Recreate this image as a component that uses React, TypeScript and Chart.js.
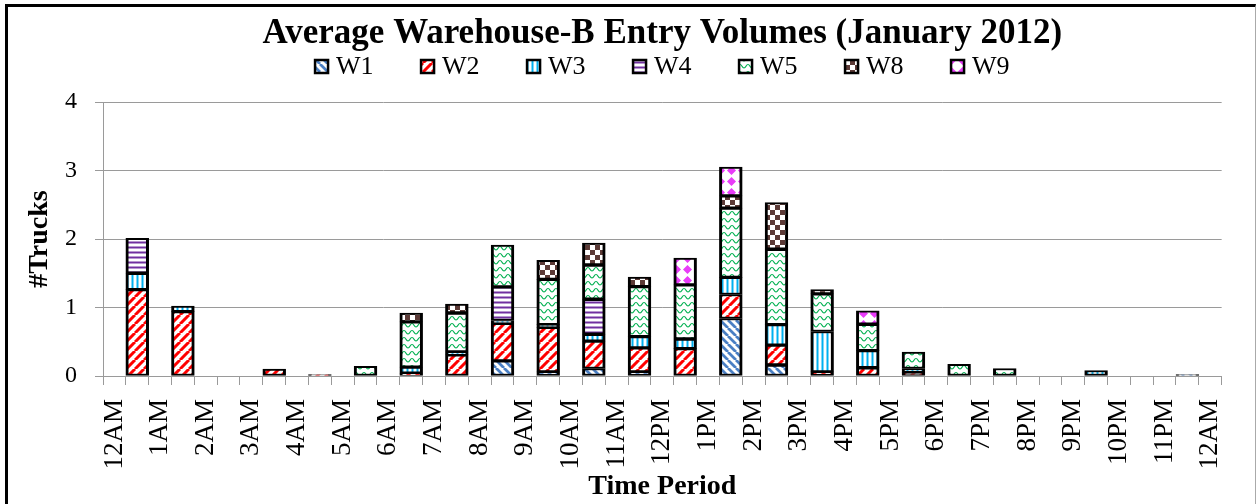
import React, { useEffect, useRef } from 'react';
import { Chart, registerables } from 'chart.js';

Chart.register(...registerables);

const hourLabels = ['12AM','1AM','2AM','3AM','4AM','5AM','6AM','7AM','8AM','9AM','10AM','11AM','12PM','1PM','2PM','3PM','4PM','5PM','6PM','7PM','8PM','9PM','10PM','11PM','12AM'];
const seriesNames = ['W1','W2','W3','W4','W5','W8','W9'];
const w1 = [0,0,0,0,0,0,0,0,0.22,0.06,0.11,0.06,0,0.84,0.16,0,0,0,0,0,0,0,0,0.02];
const w2 = [1.26,0.94,0,0.1,0.02,0,0.04,0.31,0.55,0.65,0.40,0.35,0.40,0.35,0.29,0.06,0.12,0.05,0,0,0,0,0,0];
const w3 = [0.24,0.08,0,0,0,0,0.09,0.04,0.04,0.04,0.10,0.165,0.14,0.25,0.30,0.59,0.25,0.06,0,0,0,0.08,0,0];
const w4 = [0.51,0,0,0,0,0,0,0,0.49,0,0.51,0,0,0,0,0,0,0,0,0,0,0,0,0];
const w5 = [0,0,0,0,0,0.14,0.66,0.57,0.61,0.66,0.50,0.73,0.79,1.01,1.10,0.55,0.385,0.24,0.17,0.11,0,0,0,0];
const w8 = [0,0,0,0,0,0,0.13,0.13,0,0.28,0.32,0.14,0,0.18,0.68,0.06,0,0,0,0,0,0,0,0];
const w9 = [0,0,0,0,0,0,0,0,0,0,0,0,0.39,0.42,0,0,0.195,0,0,0,0,0,0,0];
const seriesValues = [w1, w2, w3, w4, w5, w8, w9];
const seriesPatterns = ['bdiag','fdiag','vert','horiz','wave','check','diamond'];
const seriesColors = ['#4a7fc4','#ff0000','#00b0f0','#7030a0','#00b050','#5c3a36','#e83cf8'];

const FONT = '"Liberation Serif", "Times New Roman", serif';

function makePattern(kind: string, color: string): CanvasPattern {
  const c = document.createElement('canvas');
  let w = 8, h = 8;
  if (kind === 'fdiag') { w = 9; h = 9; }
  if (kind === 'vert' || kind === 'horiz') { w = 5; h = 5; }
  if (kind === 'wave') { w = 8; h = 7; }
  if (kind === 'check') { w = 10; h = 10; }
  if (kind === 'diamond') { w = 11; h = 11; }
  c.width = w; c.height = h;
  const g = c.getContext('2d')!;
  g.fillStyle = '#ffffff';
  g.fillRect(0, 0, w, h);
  g.fillStyle = color;
  g.strokeStyle = color;
  if (kind === 'bdiag') {
    g.lineWidth = 2.8;
    g.beginPath();
    for (const k of [-w, 0, w]) { g.moveTo(k, 0); g.lineTo(k + w, h); }
    g.stroke();
  } else if (kind === 'fdiag') {
    g.lineWidth = 3;
    g.beginPath();
    for (const k of [-w, 0, w]) { g.moveTo(k, h); g.lineTo(k + w, 0); }
    g.stroke();
  } else if (kind === 'vert') {
    g.fillRect(1.5, 0, 2, h);
  } else if (kind === 'horiz') {
    g.fillRect(0, 1.5, w, 2);
  } else if (kind === 'wave') {
    g.lineWidth = 1.2;
    g.beginPath();
    g.moveTo(0, 5);
    g.bezierCurveTo(2, 5, 2, 1.5, 4, 1.5);
    g.bezierCurveTo(6, 1.5, 6, 5, 8, 5);
    g.stroke();
  } else if (kind === 'check') {
    g.fillRect(0, 0, 5, 5);
    g.fillRect(5, 5, 5, 5);
  } else if (kind === 'diamond') {
    g.beginPath();
    g.moveTo(5.5, 1); g.lineTo(10, 5.5); g.lineTo(5.5, 10); g.lineTo(1, 5.5);
    g.closePath();
    g.fill();
  }
  return g.createPattern(c, 'repeat')!;
}

const legendPlugin = {
  id: 'customLegend',
  afterDraw(chart: any) {
    const ctx = chart.ctx as CanvasRenderingContext2D;
    const ds = chart.data.datasets;
    const ca = chart.chartArea;
    const center = (ca.left + ca.right) / 2;
    const spacing = 106;
    const box = 13;
    const gap = 8;
    ctx.save();
    ctx.font = `26px ${FONT}`;
    const lastW = ctx.measureText(ds[ds.length - 1].label).width;
    const total = spacing * (ds.length - 1) + box + gap + lastW;
    let x = center - total / 2;
    const cy = 66.5;
    ds.forEach((d: any) => {
      ctx.fillStyle = d.backgroundColor;
      ctx.fillRect(x, cy - box / 2, box, box);
      ctx.lineWidth = 2.5;
      ctx.strokeStyle = '#000';
      ctx.strokeRect(x, cy - box / 2, box, box);
      ctx.fillStyle = '#000';
      ctx.textAlign = 'left';
      ctx.textBaseline = 'middle';
      ctx.fillText(d.label, x + box + gap, cy + 1);
      x += spacing;
    });
    ctx.restore();
  },
};

export default function App() {
  const ref = useRef<HTMLCanvasElement>(null);
  useEffect(() => {
    if (!ref.current) return;
    Chart.defaults.font.family = FONT;
    Chart.defaults.color = '#000';
    const slotCount = hourLabels.length * 2 - 1;
    const slotLabels = Array.from({ length: slotCount }, (_, i) => (i % 2 === 0 ? hourLabels[i / 2] : ''));
    const toSlots = (arr: number[]) =>
      Array.from({ length: slotCount }, (_, i) => (i % 2 === 1 && arr[(i - 1) / 2] ? arr[(i - 1) / 2] : null));
    const datasets = seriesNames.map((name, i) => ({
      label: name,
      data: toSlots(seriesValues[i]),
      backgroundColor: makePattern(seriesPatterns[i], seriesColors[i]),
      borderColor: '#000',
      borderWidth: { left: 3, right: 3, top: 2, bottom: 2 },
      borderSkipped: false,
      barPercentage: 1,
      categoryPercentage: 1,
    }));
    const chart = new Chart(ref.current, {
      type: 'bar',
      data: { labels: slotLabels, datasets: datasets as any },
      options: {
        responsive: false,
        animation: false,
        events: [],
        layout: { padding: { left: 8, right: 27, top: 0, bottom: 0 } },
        plugins: {
          legend: { display: false },
          tooltip: { enabled: false },
          title: {
            display: true,
            text: 'Average Warehouse-B Entry Volumes (January 2012)',
            fullSize: false,
            color: '#000',
            font: { size: 35, weight: 'bold', lineHeight: 1.2, family: FONT },
            padding: { top: 13, bottom: 47 },
          },
        },
        scales: {
          x: {
            stacked: true,
            grid: { display: true, drawOnChartArea: false, drawTicks: true, tickLength: 9, color: '#9a9a9a', offset: true },
            border: { display: true, color: '#9a9a9a' },
            ticks: { autoSkip: false, minRotation: 90, maxRotation: 90, padding: 14, color: '#000', font: { size: 27, family: FONT } },
            title: { display: true, text: 'Time Period', color: '#000', font: { size: 28, weight: 'bold', family: FONT }, padding: { top: 0, bottom: 0 } },
            afterFit: (s: any) => { s.height = 128; },
          },
          y: {
            stacked: true,
            min: 0,
            max: 4,
            grid: { color: '#9a9a9a', tickLength: 8, drawTicks: true },
            border: { display: true, color: '#9a9a9a' },
            ticks: { stepSize: 1, padding: 18, color: '#000', font: { size: 24, family: FONT } },
            title: { display: true, text: '#Trucks', color: '#000', font: { size: 28, weight: 'bold', family: FONT }, padding: { top: 15, bottom: 0 } },
            afterFit: (s: any) => { s.width = 95; },
          },
        },
      },
      plugins: [legendPlugin],
    });
    return () => chart.destroy();
  }, []);
  return (
    <div style={{ position: 'fixed', left: 0, top: 0, width: 1257, height: 504, background: '#fff', overflow: 'hidden' }}>
      <div style={{ position: 'absolute', left: 5, top: 4, width: 1251, height: 530, boxSizing: 'border-box', borderTop: '3px solid #000', borderLeft: '3px solid #000', borderRight: '1px solid #aaa' }} />
      <canvas ref={ref} width={1257} height={504} style={{ position: 'absolute', left: 0, top: 0, width: 1257, height: 504 }} />
    </div>
  );
}
